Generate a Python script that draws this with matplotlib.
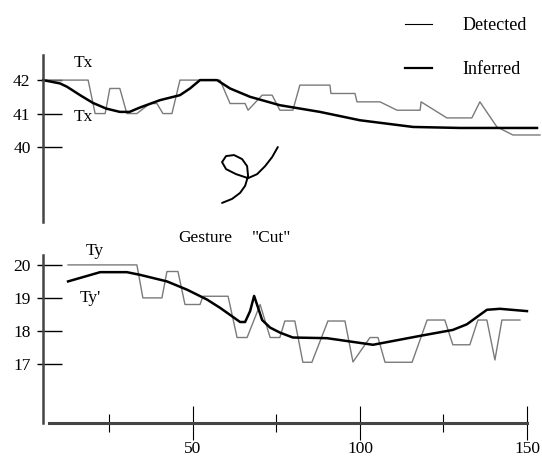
import matplotlib.pyplot as plt
from matplotlib.ticker import FixedLocator
import numpy as np

plt.rcParams['font.family'] = ['Liberation Serif', 'DejaVu Serif']

# ---------- data ----------
# top panel: Tx detected (step-like) and inferred (smooth)
tx_det_x = [5.1, 18.6, 20.7, 23.7, 25.1, 28.1, 30.2, 33.2, 37.1, 39.2, 41.0, 43.7, 46.1,
            58.1, 61.1, 65.6, 66.5, 70.7, 73.7, 76.0, 79.9, 82.0, 91.0, 91.3, 98.5, 99.1,
            106.0, 111.1, 118.0, 118.3, 126.0, 133.5, 135.9, 141.0, 145.8, 153.9]
tx_det_y = [42, 42, 41, 41, 41.75, 41.75, 41, 41, 41.3, 41.3, 41, 41, 42,
            42, 41.3, 41.3, 41.1, 41.55, 41.55, 41.1, 41.1, 41.85, 41.85, 41.6, 41.6, 41.35,
            41.35, 41.1, 41.1, 41.35, 40.87, 40.87, 41.35, 40.6, 40.36, 40.36]

tx_inf_x = [5.1, 10.2, 12.3, 16.2, 20.0, 24.0, 28.1, 31.0, 34.1, 40.1, 46.1, 49.1, 52.1, 57.2,
            61.1, 67.1, 76.0, 88.0, 100.0, 115.9, 130.0, 153.0]
tx_inf_y = [42.0, 41.9, 41.8, 41.55, 41.32, 41.15, 41.05, 41.05, 41.18, 41.4, 41.55, 41.75, 42.0, 42.0,
            41.75, 41.5, 41.25, 41.05, 40.8, 40.6, 40.57, 40.57]

# bottom panel: Ty detected and inferred
ty_det_x = [12.6, 33.2, 35.0, 40.7, 42.2, 45.5, 47.6, 52.1, 53.0, 60.5, 63.2, 66.2, 70.1,
            73.1, 76.0, 77.5, 80.5, 82.9, 85.6, 90.4, 95.5, 97.9, 103.0, 105.4, 107.5, 115.6,
            120.1, 125.4, 127.8, 132.9, 135.3, 138.0, 140.4, 142.5, 147.9]
ty_det_y = [20, 20, 19.0, 19.0, 19.8, 19.8, 18.8, 18.8, 19.05, 19.05, 17.8, 17.8, 18.8,
            17.8, 17.8, 18.3, 18.3, 17.05, 17.05, 18.3, 18.3, 17.06, 17.8, 17.8, 17.05, 17.05,
            18.33, 18.33, 17.58, 17.58, 18.33, 18.33, 17.12, 18.33, 18.33]

ty_inf_x = [12.6, 22.2, 30.2, 34.1, 42.2, 48.2, 54.2, 58.1, 60.2, 64.1, 65.6, 67.1, 68.3,
            69.5, 70.7, 73.1, 76.0, 79.9, 90.1, 103.9, 118.0, 127.8, 132.0, 138.0, 141.9, 150.0]
ty_inf_y = [19.5, 19.78, 19.78, 19.7, 19.5, 19.25, 18.95, 18.7, 18.55, 18.27, 18.27, 18.6, 19.06,
            18.7, 18.33, 18.1, 17.95, 17.8, 17.78, 17.58, 17.85, 18.03, 18.2, 18.64, 18.67, 18.6]

# the "Cut" gesture stroke, in top-panel data units
gesture_x = [58.7, 61.7, 64.1, 65.6, 66.5, 66.2, 64.7, 62.3, 59.9, 58.7, 59.9, 62.9,
             66.5, 69.2, 71.6, 73.7, 75.4]
gesture_y = [38.33, 38.45, 38.63, 38.84, 39.13, 39.43, 39.64, 39.76, 39.73, 39.55, 39.34, 39.19,
             39.07, 39.19, 39.43, 39.70, 40.0]

top_ticks = [40, 41, 42]
bottom_ticks = [17, 18, 19, 20]
x_major = [50, 100, 150]
x_minor = [25, 75, 125]

W, H = 542, 467
fig = plt.figure(figsize=(W / 100, H / 100), dpi=100)

left = 43 / W
width = (540 - 43) / W
ax1 = fig.add_axes([left, 1 - 222 / H, width, 167 / H])
ax2 = fig.add_axes([left, 1 - 423 / H, width, 168 / H])

det_color = '#7a7a7a'
for ax in (ax1, ax2):
    ax.set_xlim(5.09, 153.9)
    for s in ('top', 'right'):
        ax.spines[s].set_visible(False)
    ax.spines['left'].set_linewidth(1.8)
    ax.spines['left'].set_color('#444444')
    ax.patch.set_alpha(0)

# ---------- top panel ----------
ax1.plot(tx_det_x, tx_det_y, color=det_color, lw=1.0, clip_on=False)
ax1.plot(tx_inf_x, tx_inf_y, color='black', lw=1.8, clip_on=False)
ax1.plot(gesture_x, gesture_y, color='black', lw=1.4, solid_capstyle='round')
ax1.set_ylim(37.76, 42.75)
ax1.spines['bottom'].set_visible(False)
ax1.set_xticks([])

# ---------- bottom panel ----------
ax2.plot(ty_det_x, ty_det_y, color=det_color, lw=1.0, clip_on=False)
ax2.plot(ty_inf_x, ty_inf_y, color='black', lw=1.8, clip_on=False)
ax2.set_ylim(15.21, 20.3)
ax2.spines['bottom'].set_linewidth(2.2)
ax2.spines['bottom'].set_color('#444444')
ax2.spines['bottom'].set_bounds(6.9, 150)
ax2.set_xticks(x_major)
ax2.set_xticklabels([str(v) for v in x_major])
ax2.xaxis.set_minor_locator(FixedLocator(x_minor))
ax2.tick_params(axis='x', which='major', direction='inout', length=24, width=0.8,
                labelsize=12.5, pad=1)
ax2.tick_params(axis='x', which='minor', direction='inout', length=13, width=0.8)

# y ticks: long part inside, short stub outside
for ax, ticks in ((ax1, top_ticks), (ax2, bottom_ticks)):
    ax.set_yticks(ticks)
    ax.set_yticklabels([str(t) for t in ticks])
    ax.yaxis.set_minor_locator(FixedLocator(ticks))
    ax.yaxis.remove_overlapping_locs = False
    ax.tick_params(axis='y', which='major', direction='in', length=14, width=1.0,
                   labelsize=12.5, pad=9)
    ax.tick_params(axis='y', which='minor', direction='out', length=4.5, width=1.0)

# ---------- labels ----------
fs = 12.5
fig.text(83 / W, 1 - 63 / H, 'Tx', fontsize=fs, ha='center', va='center')
fig.text(83 / W, 1 - 117 / H, 'Tx', fontsize=fs, ha='center', va='center')
fig.text(95 / W, 1 - 251 / H, 'Ty', fontsize=fs, ha='center', va='center')
fig.text(90 / W, 1 - 298 / H, "Ty'", fontsize=fs, ha='center', va='center')
fig.text(205 / W, 1 - 238 / H, 'Gesture', fontsize=fs, ha='center', va='center')
fig.text(272 / W, 1 - 238 / H, '"Cut"', fontsize=fs, ha='center', va='center')

h_det, = ax1.plot([], [], color='black', lw=0.8)
h_inf, = ax1.plot([], [], color='black', lw=1.6)
fig.legend([h_det, h_inf], ['Detected', 'Inferred'], loc='upper left',
           bbox_to_anchor=(396 / W, 1 - 8 / H), frameon=False, fontsize=13,
           handlelength=1.5, handletextpad=1.7, labelspacing=1.5, borderpad=0)

fig.savefig('out.png', dpi=100)
